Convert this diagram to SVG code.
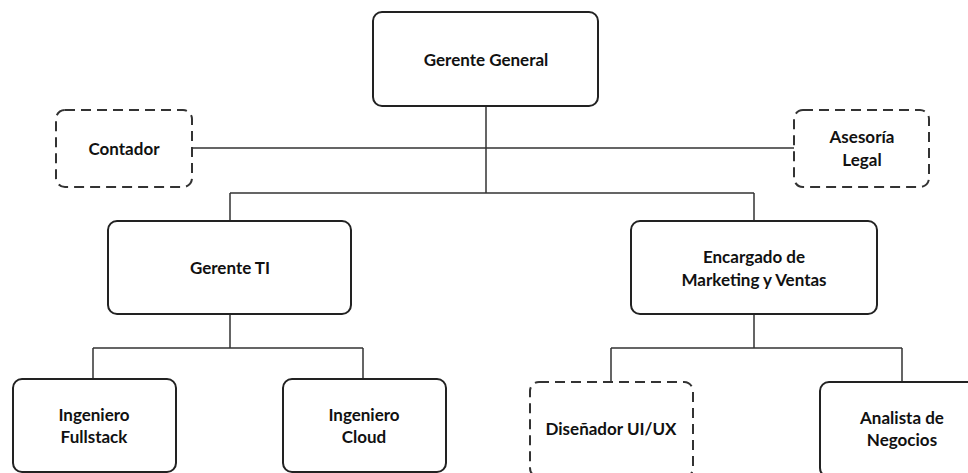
<svg xmlns="http://www.w3.org/2000/svg" width="968" height="473" viewBox="0 0 968 473">
<style>
.box{fill:#fff;stroke:#222;stroke-width:2}
.dash{fill:#fff;stroke:#333;stroke-width:2;stroke-dasharray:10 6}
.con{fill:none;stroke:#333;stroke-width:1.5}
text{font-family:Lato,"Open Sans","Liberation Sans",sans-serif;font-weight:bold;font-size:17px;fill:#111;text-anchor:middle}
</style>
<rect width="968" height="473" fill="#fff"/>
<g id="connectors">
<path class="con" d="M486 106V193M192 148H794M230 193H754M230 193V221M754 193V221"/>
<path class="con" d="M230 314V348M93 348H363M93 348V379M363 348V379"/>
<path class="con" d="M754 314V348M611 348H902M611 348V382M902 348V382"/>
</g>
<g id="gerente-general"><rect class="box" x="373" y="12" width="225" height="94" rx="9"/><text x="486" y="66">Gerente General</text></g>
<g id="contador"><rect class="dash" x="56" y="110" width="136" height="77" rx="9"/><text x="124" y="155">Contador</text></g>
<g id="asesoria"><rect class="dash" x="794" y="110" width="135" height="77" rx="9"/><text x="862" y="143">Asesoría</text><text x="862" y="166">Legal</text></g>
<g id="gerente-ti"><rect class="box" x="108" y="221" width="243" height="93" rx="9"/><text x="230" y="274">Gerente TI</text></g>
<g id="encargado"><rect class="box" x="631" y="221" width="246" height="93" rx="9"/><text x="754" y="263">Encargado de</text><text x="754" y="286">Marketing y Ventas</text></g>
<g id="fullstack"><rect class="box" x="13" y="379" width="163" height="93" rx="9"/><text x="94" y="421">Ingeniero</text><text x="94" y="443">Fullstack</text></g>
<g id="cloud"><rect class="box" x="283" y="379" width="163" height="93" rx="9"/><text x="364" y="421">Ingeniero</text><text x="364" y="443">Cloud</text></g>
<g id="disenador"><rect class="dash" x="530" y="382" width="163" height="95" rx="9"/><text x="611" y="435">Diseñador UI/UX</text></g>
<g id="analista"><rect class="box" x="820" y="382" width="164" height="95" rx="9"/><text x="902" y="424">Analista de</text><text x="902" y="446">Negocios</text></g>
</svg>
